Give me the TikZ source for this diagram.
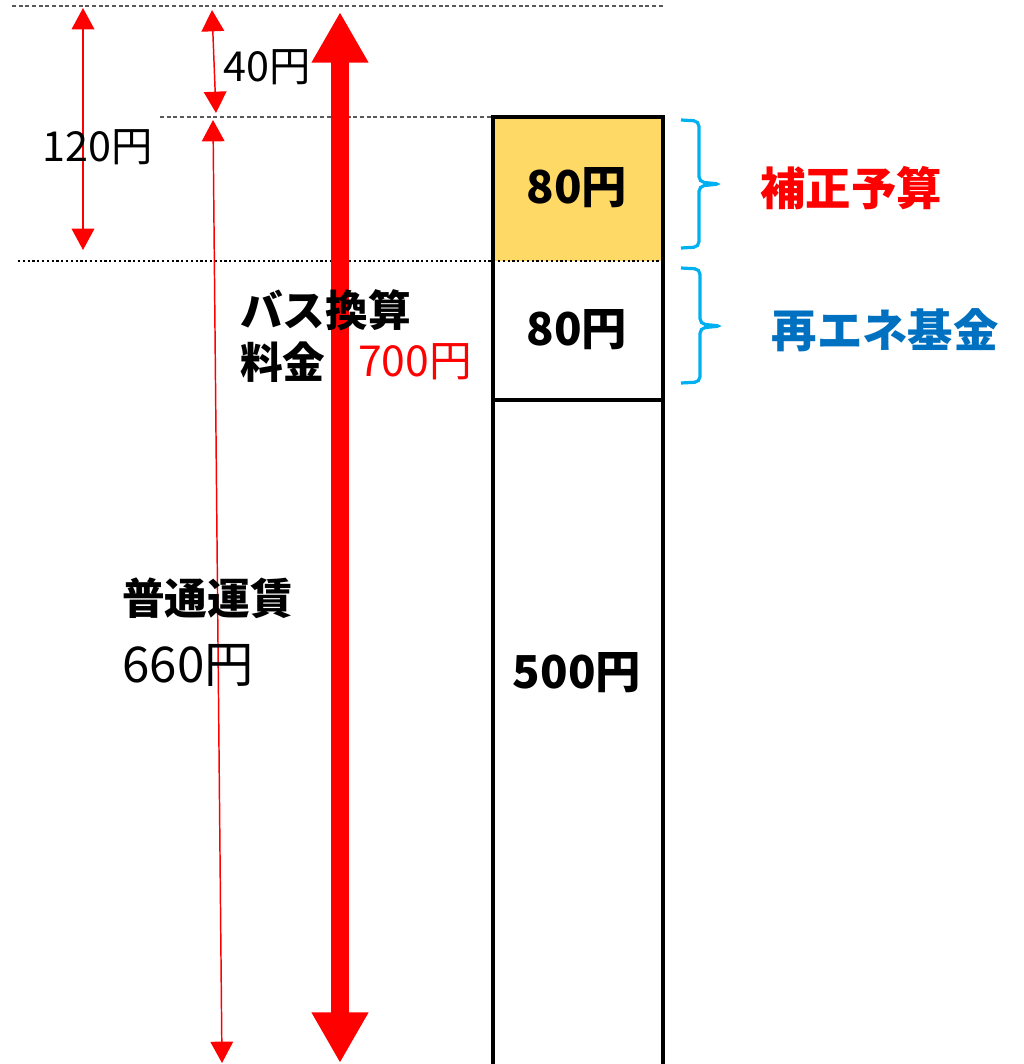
\documentclass[tikz,border=0pt]{standalone}
\usepackage{fontspec}
\setmainfont{Noto Sans CJK JP}
\usetikzlibrary{calc,arrows.meta,positioning}
\definecolor{hosei}{HTML}{FFD966}
\definecolor{brcol}{HTML}{00B0F0}
\definecolor{kikin}{HTML}{0070C0}

\begin{document}
\begin{tikzpicture}[x=0.75pt,y=-0.75pt,{txt/.style={inner sep=0pt,font=\fontsize{30}{34}\selectfont}},{txtb/.style={inner sep=0pt,font=\fontsize{32}{36}\selectfont\bfseries}},{boxt/.style={inner sep=0pt,font=\fontsize{34}{38}\selectfont\bfseries}},{dimln/.style={red,line width=1.1pt,{Triangle[width=17pt,length=16pt]}-{Triangle[width=17pt,length=16pt]}}},{brc/.style={color=brcol,line width=2.4pt,rounded corners=4pt}},{guide/.style={gray!70!black,line width=0.8pt,densely dashed}}]
	\useasboundingbox (0,0) rectangle (1024,1064);
	%%coordinates of the column
	\coordinate (T) at (493,117);
	\coordinate (M) at (663,261);
	\coordinate (L) at (493,400);
	\coordinate (E) at (663,1068);
	%%column parts
	\fill [hosei] (T) rectangle (M);
	\draw [line width=3pt] (T) rectangle (E);
	\draw [line width=3pt] (L) -- (L-|E);
	%%guide lines
	\draw [guide] (12,6) -- (665,6);
	\draw [guide] (160,117) -- (T);
	\draw [line width=1.6pt,dotted] (18,261) -- (M);
	%%dimension arrows
	\coordinate (a1) at (83,8);
	\coordinate (a2) at (83,250);
	\coordinate (b1) at (212,10);
	\coordinate (b2) at (216,113);
	\coordinate (c1) at (213,120);
	\coordinate (c2) at (222,1063);
	\coordinate (d1) at (340,12);
	\coordinate (d2) at (340,1063);
	\draw [dimln] (a1) -- (a2);
	\draw [dimln] (b1) -- (b2);
	\draw [dimln] (c1) -- (c2);
	\draw [red,line width=13.5pt,{Triangle[width=40pt,length=38pt]}-{Triangle[width=40pt,length=38pt]}] (d1) -- (d2);
	%%labels
	\node [txt,font=\fontsize{31}{34}\selectfont\mdseries] (y120) at (98,147) {120円};
	\node [txt,font=\fontsize{31}{34}\selectfont] (y40) at (267,67) {40円};
	\node [txtb,anchor=west] (bus) at (240,310) {バス換算};
	\node [txtb,anchor=west] (ryo) at (240,362) {料金};
	\node [txt,anchor=west,red,font=\fontsize{32}{36}\selectfont] (y700) at (358,362) {700円};
	\node [txtb,anchor=west] (futsu) at (122,598) {普通運賃};
	\node [inner sep=0pt,anchor=west,font=\fontsize{37}{40}\selectfont] (y660) at (122,665) {660円};
	\node [boxt] (p1) at (577,188) {80円};
	\node [boxt] (p2) at (577,330) {80円};
	\node [boxt] (p3) at (577,673) {500円};
	%%braces
	\draw [brc] (681,120) -- (699,121) -- (699,182) -- (720,184) -- (699,186) -- (699,247) -- (681,248);
	\draw [brc] (681,268) -- (700,269) -- (700,324) -- (721,326) -- (700,328) -- (700,382) -- (681,383);
	\node [txtb,red,font=\fontsize{34}{38}\selectfont\bfseries] (hosei) at (851,188) {補正予算};
	\node [txtb,kikin,font=\fontsize{34}{38}\selectfont\bfseries] (saiene) at (885,330) {再エネ基金};
\end{tikzpicture}
\end{document}
